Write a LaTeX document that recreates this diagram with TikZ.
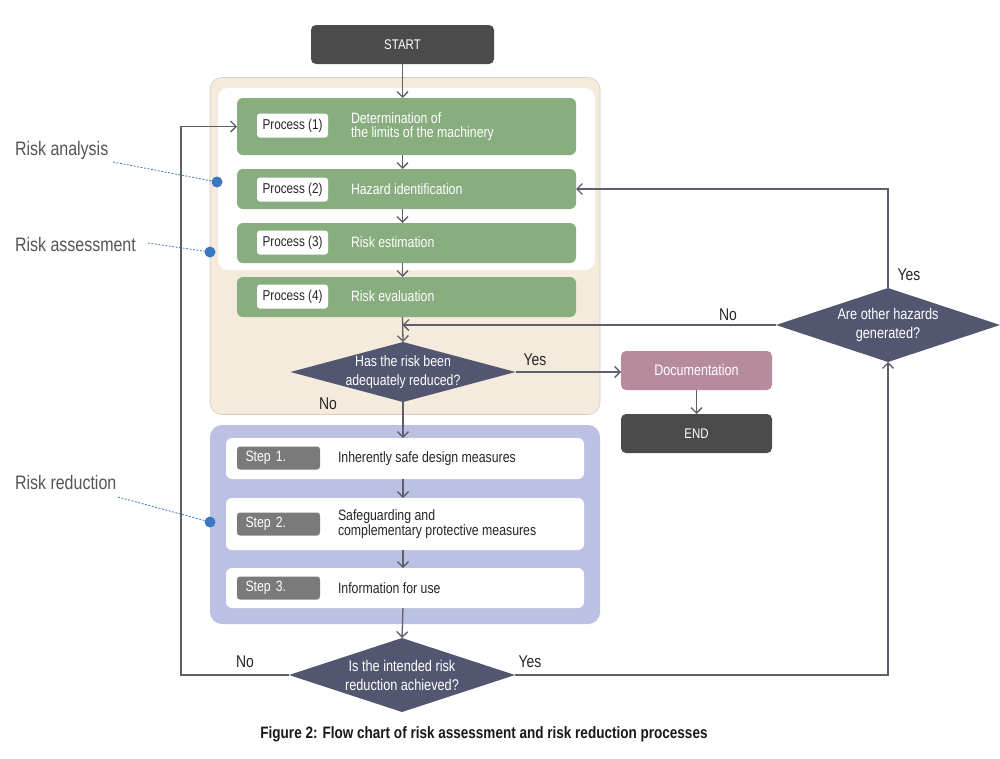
\documentclass[tikz,border=0pt]{standalone}
\usepackage{fontspec}
\setmainfont{Liberation Sans}[FakeStretch=0.82]
\usetikzlibrary{shapes.geometric,arrows.meta}
\definecolor{darkbox}{HTML}{4B4B4B}
\definecolor{beige}{HTML}{F5EBDC}
\definecolor{beigeline}{HTML}{D8CDBE}
\definecolor{greenbox}{HTML}{88AD7E}
\definecolor{diamondc}{HTML}{535670}
\definecolor{docc}{HTML}{B78B9E}
\definecolor{lavender}{HTML}{BCC0E3}
\definecolor{steplab}{HTML}{7A7A7A}
\definecolor{linec}{HTML}{5D5F6B}
\definecolor{dotc}{HTML}{3B78C2}
\definecolor{sidetext}{HTML}{555555}
\begin{document}
\begin{tikzpicture}[x=1pt,y=-1pt,
  every node/.style={inner sep=0pt, outer sep=0pt},
  txt/.style={font=\fontsize{15}{13.5}\selectfont},
  termbox/.style={fill=darkbox, rounded corners=5pt, text=white, font=\fontsize{14}{14}\selectfont},
  procbox/.style={fill=greenbox, rounded corners=6pt, minimum width=339, minimum height=40},
  proclab/.style={fill=white, rounded corners=3pt, minimum width=71, minimum height=24, font=\fontsize{14.3}{14}\selectfont, text=black!85},
  proctext/.style={anchor=west, align=left, text=white, txt},
  stepbox/.style={fill=white, rounded corners=6pt, minimum width=358},
  steplabel/.style={fill=steplab, rounded corners=3pt, text width=66, inner xsep=8.5pt, align=left, minimum height=23, txt, text=white},
  steptext/.style={anchor=west, align=left, text=black!85, txt},
  decision/.style={diamond, fill=diamondc, aspect=3},
  dtext/.style={align=center, text=white, font=\fontsize{15.5}{19}\selectfont},
  yn/.style={font=\fontsize{17}{18}\selectfont, text=black!85},
  side/.style={anchor=west, font=\fontsize{19.5}{20}\selectfont, text=sidetext},
  conn/.style={draw=linec, line width=1.3pt},
  arr/.style={conn, -{Straight Barb[length=5.5pt,width=11pt]}},
  leader/.style={draw=dotc, line width=0.8pt, dash pattern=on 2pt off 1.5pt},
  dot/.style={circle, fill=dotc, minimum size=11}
]
\fill[white] (0,0) rectangle (1000,758);
\useasboundingbox (0,0) rectangle (1000,758);

% containers
\node[fill=beige, draw=beigeline, line width=0.6pt, rounded corners=12pt, minimum width=390, minimum height=337] (assess) at (405,246) {};
\node[fill=white, rounded corners=10pt, minimum width=377, minimum height=182] (analysis) at (406.5,179) {};
\node[fill=lavender, rounded corners=12pt, minimum width=390, minimum height=199] (reduce) at (405,524.5) {};

% start
\node[termbox, minimum width=183, minimum height=39] (start) at (402.5,44.5) {START};

% processes
\node[procbox, minimum height=57] (p1) at (406.5,126.5) {};
\node[procbox] (p2) at (406.5,189) {};
\node[procbox] (p3) at (406.5,243) {};
\node[procbox] (p4) at (406.5,297) {};
\node[proclab] (l1) at (292.5,125.5) {Process (1)};
\node[proclab] (l2) at (292.5,189.5) {Process (2)};
\node[proclab] (l3) at (292.5,242.5) {Process (3)};
\node[proclab] (l4) at (292.5,296.5) {Process (4)};
\node[proctext] (t1) at (351,126.5) {Determination of\\the limits of the machinery};
\node[proctext] (t2) at (351,189.5) {Hazard identification};
\node[proctext] (t3) at (351,242.5) {Risk estimation};
\node[proctext] (t4) at (351,296.5) {Risk evaluation};

% decision 1
\node[decision, minimum width=225, minimum height=60] (d1) at (403,372) {};
\node[dtext, font=\fontsize{15}{19}\selectfont] (d1t) at (d1) {Has the risk been\\adequately reduced?};

% documentation / end
\node[fill=docc, rounded corners=5pt, minimum width=151, minimum height=39, text=white, font=\fontsize{15.3}{15}\selectfont] (doc) at (696.5,370.5) {Documentation};
\node[termbox, minimum width=151, minimum height=39] (end) at (696.5,433.5) {END};

% decision 2
\node[decision, minimum width=224, minimum height=74] (d2) at (888,325) {};
\node[dtext] (d2t) at (d2) {Are other hazards\\generated?};

% steps
\node[stepbox, minimum height=41] (s1) at (405,458.5) {};
\node[stepbox, minimum height=52] (s2) at (405,524) {};
\node[stepbox, minimum height=40] (s3) at (405,588) {};
\node[steplabel] (sl1) at (278.5,458) {Step 1.};
\node[steplabel] (sl2) at (278.5,524) {Step 2.};
\node[steplabel] (sl3) at (278.5,588) {Step 3.};
\node[steptext] (st1) at (338,458.5) {Inherently safe design measures};
\node[steptext] (st2) at (338,524) {Safeguarding and\\complementary protective measures};
\node[steptext] (st3) at (338,588.5) {Information for use};

% decision 3
\node[decision, minimum width=226, minimum height=74] (d3) at (402,675) {};
\node[dtext] (d3t) at (d3) {Is the intended risk\\reduction achieved?};

% yes / no labels
\node[yn] (y1) at (535,360) {Yes};
\node[yn] (n1) at (328,404) {No};
\node[yn] (y2) at (909,275) {Yes};
\node[yn] (n2) at (728,315) {No};
\node[yn] (n3) at (245,662) {No};
\node[yn] (y3) at (530,662) {Yes};

% side labels
\node[side] (ra) at (15,150) {Risk analysis};
\node[side] (rs) at (15,245) {Risk assessment};
\node[side] (rr) at (15,483) {Risk reduction};
\coordinate (ra0) at (113,162);
\coordinate (rs0) at (148,243);
\coordinate (rr0) at (118,497);
\node[dot] (dot1) at (217,182) {};
\node[dot] (dot2) at (210,252) {};
\node[dot] (dot3) at (210,522) {};
\draw[leader] (ra0) -- (dot1);
\draw[leader] (rs0) -- (dot2);
\draw[leader] (rr0) -- (dot3);

% connectors
\coordinate (fbl) at (181,0);
\draw[arr] (start) -- (start |- p1.north);
\draw[arr] (start |- p1.south) -- (start |- p2.north);
\draw[arr] (start |- p2.south) -- (start |- p3.north);
\draw[arr] (start |- p3.south) -- (start |- p4.north);
\draw[arr] (start |- p4.south) -- (d1.north);
\draw[arr] (d1.east) -- (d1.east -| doc.west);
\draw[arr] (doc) -- (end);
\draw[arr] (d2.west) -- (d2.west -| start.south);
\draw[arr] (d2.north) |- (p2.east);
\draw[arr] (d1.south) -- (d1.south |- s1.north);
\draw[arr] (d1.south |- s1.south) -- (d1.south |- s2.north);
\draw[arr] (d1.south |- s2.south) -- (d1.south |- s3.north);
\draw[arr] (d1.south |- s3.south) -- (d3.north);
\draw[arr] (d3.west) -| (fbl |- p1.west) -- (p1.west);
\draw[arr] (d3.east) -| (d2.south);

% caption
\node[font=\bfseries\fontsize{16.5}{16}\selectfont, text=black!90] (cap) at (484,734) {Figure 2: Flow chart of risk assessment and risk reduction processes};
\end{tikzpicture}
\end{document}
